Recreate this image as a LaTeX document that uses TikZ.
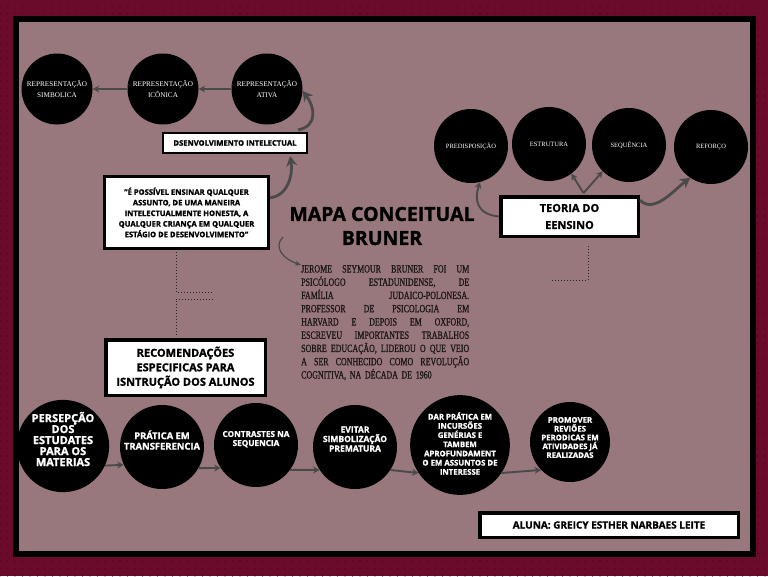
\documentclass[tikz,border=0pt]{standalone}
\usepackage{fontspec}
\setmainfont{Open Sans}[BoldFeatures={FakeBold=1.3}]
\newfontfamily\parafont[FakeStretch=0.72, FakeBold=0.9]{Liberation Serif}
\newfontfamily\circfont{Liberation Serif}
\usetikzlibrary{arrows.meta,calc,patterns.meta}
\definecolor{bordermaroon}{HTML}{6A0B2B}
\definecolor{dotmaroon}{HTML}{42041A}
\definecolor{mauve}{HTML}{98787C}
\definecolor{arrgray}{HTML}{4A4A4A}
\definecolor{parink}{HTML}{1C1616}
\newcommand{\parline}[1]{\makebox[168pt][s]{\spaceskip=3pt plus 1fil\relax #1}}

\begin{document}
\begin{tikzpicture}[
  x=1pt, y=-1pt,
  topcirc/.style={
    circle, fill=black, minimum size=71pt, inner sep=0pt,
    align=center, text=white, font=\circfont\fontsize{7.2}{11}\selectfont
  },
  theorycirc/.style={
    circle, fill=black, minimum size=74pt, inner sep=0pt,
    align=center, text=white, font=\circfont\fontsize{6.5}{8}\selectfont
  },
  stepcirc/.style={
    circle, fill=black, minimum size=84pt, inner sep=0pt,
    align=center, text=white
  },
  tagbox/.style={
    rectangle, draw=black, line width=3.2pt, fill=white,
    align=center, inner sep=2pt
  },
  arr/.style={-{Stealth[length=6.5pt,width=7pt]}, line width=1.9pt, draw=arrgray},
  thinarr/.style={-{Stealth[length=6pt,width=5pt]}, line width=1.2pt, draw=arrgray},
  bigarr/.style={-{Stealth[length=10pt,width=11pt]}, line width=2.8pt, draw=arrgray},
  dotline/.style={line width=1pt, dash pattern=on 1pt off 2pt, draw=black!85}
]

% --- frame ---
\fill[bordermaroon] (0,0) rectangle (768,576);
\fill[pattern={Dots[distance=7.5pt, radius=0.7pt]}, pattern color=dotmaroon] (0,0) rectangle (768,576);
\fill[black] (13,16) rectangle (756,557);
\fill[mauve] (19,22) rectangle (750,551);
\useasboundingbox (0,0) rectangle (768,576);

% --- representations (top left) ---
\node[topcirc] (simb) at (57,89) {REPRESENTAÇÃO\\SIMBOLICA};
\node[topcirc] (icon) at (163,89) {REPRESENTAÇÃO\\ICÔNICA};
\node[topcirc] (ativ) at (267,89) {REPRESENTAÇÃO\\ATIVA};
\draw[arr] (ativ) -- (icon);
\draw[arr] (icon) -- (simb);

\node[tagbox, line width=2.2pt, minimum width=144pt, minimum height=20pt,
  font=\bfseries\fontsize{7.6}{9}\selectfont] (desenv) at (235,143) {DSENVOLVIMENTO INTELECTUAL};
\draw[bigarr] ($(desenv.north east)+(-10,-2)$) .. controls +(20,-4) and +(12,16) .. (ativ.-3);

% quote
\node[tagbox, minimum width=164pt, minimum height=72pt,
  font=\bfseries\fontsize{7.6}{10.6}\selectfont] (quote) at (186.5,212.5)
  {"É POSSÍVEL ENSINAR QUALQUER\\ASSUNTO, DE UMA MANEIRA\\INTELECTUALMENTE HONESTA, A\\QUALQUER CRIANÇA EM QUALQUER\\ESTÁGIO DE DESENVOLVIMENTO"};
\draw[bigarr] (quote.10) .. controls +(18,-2) and +(3,18) .. ($(desenv.south east)+(-18,2)$);

% --- title and text ---
\node[font=\bfseries\fontsize{19.5}{24}\selectfont, align=center] (title) at (382,226) {MAPA CONCEITUAL\\BRUNER};

\node[anchor=north west, inner sep=0pt, text width=168pt, text=parink,
  font=\parafont\fontsize{11}{13.25}\selectfont] (para) at (301,265) {%
\parline{JEROME SEYMOUR BRUNER FOI UM}\\
\parline{PSICÓLOGO ESTADUNIDENSE, DE}\\
\parline{FAMÍLIA JUDAICO-POLONESA.}\\
\parline{PROFESSOR DE PSICOLOGIA EM}\\
\parline{HARVARD E DEPOIS EM OXFORD,}\\
\parline{ESCREVEU IMPORTANTES TRABALHOS}\\
\parline{SOBRE EDUCAÇÃO, LIDEROU O QUE VEIO}\\
\parline{A SER CONHECIDO COMO REVOLUÇÃO}\\
COGNITIVA, NA DÉCADA DE 1960};

\coordinate (qtail) at (283,237);
\draw[thinarr] (qtail) .. controls +(-10,10) and +(-18,-6) .. (para.north west);

% --- teoria do ensino (right) ---
\node[theorycirc] (pred) at (471,146) {PREDISPOSIÇÃO};
\node[theorycirc] (estr) at (549,144) {ESTRUTURA};
\node[theorycirc] (seq) at (629,145) {SEQUÊNCIA};
\node[theorycirc] (refo) at (711,147) {REFORÇO};

\node[tagbox, line width=3.5pt, minimum width=137.5pt, minimum height=39.5pt,
  font=\bfseries\fontsize{11}{17}\selectfont] (teoria) at (569.5,216.5) {TEORIA DO\\EENSINO};
\draw[arr] ($(teoria.north)+(14,-2)$) -- (estr.-53);
\draw[arr] ($(teoria.north)+(14,-2)$) -- (seq.-135);
\draw[arr] (teoria.west) .. controls +(-22,-2) and +(-6,18) .. (pred.-76);
\draw[bigarr] (teoria.13) .. controls +(14,14) and +(-16,12) .. (refo.-124);

\draw[dotline] ($(teoria.south)+(18.5,8)$) -- ++(0,34) -- ++(-38,0);

% --- recomendacoes (bottom) ---
\node[tagbox, line width=3.5pt, minimum width=159.5pt, minimum height=55.5pt,
  font=\bfseries\fontsize{11}{14.5}\selectfont] (rec) at (185.5,367.5)
  {RECOMENDAÇÕES\\ESPECIFICAS PARA\\ISNTRUÇÃO DOS ALUNOS};

\draw[dotline] ($(quote.south)+(-10.5,2)$) -- ++(0,40) -- ++(37,0);
\draw[dotline] ($(rec.north)+(27.5,-39)$) -- ++(-37,0) -- ++(0,38);

\node[stepcirc, text depth=14pt, font=\bfseries\fontsize{11}{11}\selectfont] (c1) at (63,446)
  {PERSEPÇÃO\\DOS\\ESTUDATES\\PARA OS\\MATERIAS};
\node[stepcirc, text depth=14pt, font=\bfseries\fontsize{9.4}{10.5}\selectfont] (c2) at (162,447)
  {PRÁTICA EM\\TRANSFERENCIA};
\node[stepcirc, text depth=13pt, font=\bfseries\fontsize{8.2}{9}\selectfont] (c3) at (256,445)
  {CONTRASTES NA\\SEQUENCIA};
\node[stepcirc, text depth=16pt, font=\bfseries\fontsize{8.5}{9.5}\selectfont] (c4) at (355,447)
  {EVITAR\\SIMBOLIZAÇÃO\\PREMATURA};
\node[stepcirc, minimum size=92pt, text depth=3pt, font=\bfseries\fontsize{7.8}{9.2}\selectfont] (c5) at (460,445)
  {DAR PRÁTICA EM\\INCURSÕES\\GENÉRIAS E\\TAMBEM\\APROFUNDAMENT\\O EM ASSUNTOS DE\\INTERESSE};
\node[stepcirc, minimum size=80pt, text depth=9pt, font=\bfseries\fontsize{7.8}{8.8}\selectfont] (c6) at (570,442)
  {PROMOVER\\REVIÕES\\PERODICAS EM\\ATIVIDADES JÁ\\REALIZADAS};

\draw[arr] (c1.-25) -- (c2.-155);
\draw[arr] (c2.-30) -- (c3.-147);
\draw[arr] (c3.-36) -- (c4.-147);
\draw[arr] (c4.-33) -- (c5.-146);
\draw[arr] (c5.-34) -- (c6.-136);

% author
\node[tagbox, line width=3.5pt, minimum width=258.5pt, minimum height=24.5pt,
  font=\bfseries\fontsize{10}{12}\selectfont] (aluna) at (609,525) {ALUNA: GREICY ESTHER NARBAES LEITE};

\end{tikzpicture}
\end{document}
